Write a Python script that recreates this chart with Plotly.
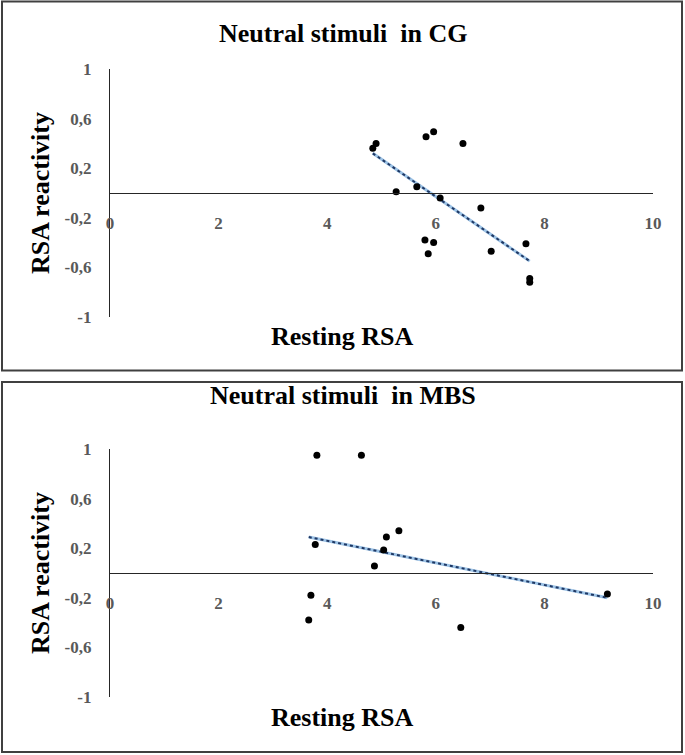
import numpy as np
import plotly.graph_objects as go

# ---- data ----
cg_rest = [4.90, 4.84, 5.82, 5.96, 6.50, 5.27, 5.65, 6.08, 6.83, 5.80, 5.96, 5.86, 7.02, 7.66, 7.73, 7.73]
cg_react = [0.40, 0.36, 0.454, 0.494, 0.40, 0.01, 0.05, -0.04, -0.12, -0.38, -0.40, -0.49, -0.47, -0.41, -0.69, -0.72]

mbs_rest = [3.81, 4.63, 5.32, 5.09, 3.78, 5.04, 4.87, 3.70, 3.66, 6.46, 9.16]
mbs_react = [0.95, 0.95, 0.34, 0.29, 0.23, 0.185, 0.056, -0.18, -0.38, -0.44, -0.17]

x_ticks = [0, 2, 4, 6, 8, 10]
y_ticks = [-1, -0.6, -0.2, 0.2, 0.6, 1]
y_ticktext = ["-1", "-0,6", "-0,2", "0,2", "0,6", "1"]

titles = ["Neutral stimuli  in CG", "Neutral stimuli  in MBS"]
x_title = "Resting RSA"
y_title = "RSA reactivity"

W, H = 685, 755
FONT = "Liberation Serif"


def trend(xs, ys):
    xs = np.array(xs)
    ys = np.array(ys)
    m, b = np.polyfit(xs, ys, 1)
    xx = np.array([xs.min(), xs.max()])
    return xx, m * xx + b


fig = go.Figure()

panels = [(cg_rest, cg_react, "x", "y"), (mbs_rest, mbs_react, "x2", "y2")]
for xs, ys, xa, ya in panels:
    tx, ty = trend(xs, ys)
    fig.add_trace(go.Scatter(x=tx, y=ty, mode="lines", xaxis=xa, yaxis=ya,
                             line=dict(color="#9DC3E6", width=3), showlegend=False,
                             hoverinfo="skip"))
    fig.add_trace(go.Scatter(x=tx, y=ty, mode="lines", xaxis=xa, yaxis=ya,
                             line=dict(color="#1F3864", width=2, dash="dot"), showlegend=False,
                             hoverinfo="skip"))
    fig.add_trace(go.Scatter(x=xs, y=ys, mode="markers", xaxis=xa, yaxis=ya,
                             marker=dict(color="black", size=7), showlegend=False))


def py(p):
    return 1 - p / H


def px(p):
    return p / W


xdom = [px(110), px(653)]
tick_font = dict(family=FONT, size=17, color="#595959", weight="bold")

axis_common = dict(showgrid=False, zeroline=False, showline=True,
                   linecolor="#262626", linewidth=1.4, ticks="",
                   tickfont=tick_font, ticklabelstandoff=14, automargin=False)

# top panel: y=1 at 69px, y=-1 at 317px; zero at 193px
# bottom panel: y=1 at 449px, y=-1 at 697px; zero at 573px
fig.update_layout(
    xaxis=dict(domain=xdom, range=[0, 10], tickvals=x_ticks, anchor="free",
               position=py(193), **axis_common),
    yaxis=dict(domain=[py(317), py(69)], range=[-1, 1], tickvals=y_ticks,
               ticktext=y_ticktext, anchor="x", **axis_common),
    xaxis2=dict(domain=xdom, range=[0, 10], tickvals=x_ticks, anchor="free",
                position=py(573), **axis_common),
    yaxis2=dict(domain=[py(697), py(449)], range=[-1, 1], tickvals=y_ticks,
                ticktext=y_ticktext, anchor="x2", **axis_common),
)

# panel borders
for (y0, y1) in [(1.5, 370.5), (382, 752)]:
    fig.add_shape(type="rect", xref="paper", yref="paper",
                  x0=px(2), x1=px(682), y0=py(y1), y1=py(y0),
                  line=dict(color="#404040", width=2), fillcolor="rgba(0,0,0,0)",
                  layer="below")

title_font = dict(family=FONT, size=26, color="black", weight="bold")
anns = []
for title, ty, xty, yty in [(titles[0], 33, 337, 193), (titles[1], 396, 717, 573)]:
    anns.append(dict(text=title, x=px(343), y=py(ty), xref="paper", yref="paper",
                     xanchor="center", yanchor="middle", showarrow=False, font=title_font))
    anns.append(dict(text=x_title, x=px(342), y=py(xty), xref="paper", yref="paper",
                     xanchor="center", yanchor="middle", showarrow=False, font=title_font))
    anns.append(dict(text=y_title, x=px(40), y=py(yty), xref="paper", yref="paper",
                     xanchor="center", yanchor="middle", showarrow=False, font=title_font,
                     textangle=-90))

fig.update_layout(
    width=W, height=H,
    margin=dict(l=0, r=0, t=0, b=0, pad=0, autoexpand=False),
    paper_bgcolor="white", plot_bgcolor="white",
    annotations=anns,
    font=dict(family=FONT),
)

fig.write_html(
    "out.html",
    config={"displayModeBar": False},
    post_script="document.body.style.margin='0';document.body.style.overflow='hidden';",
)
